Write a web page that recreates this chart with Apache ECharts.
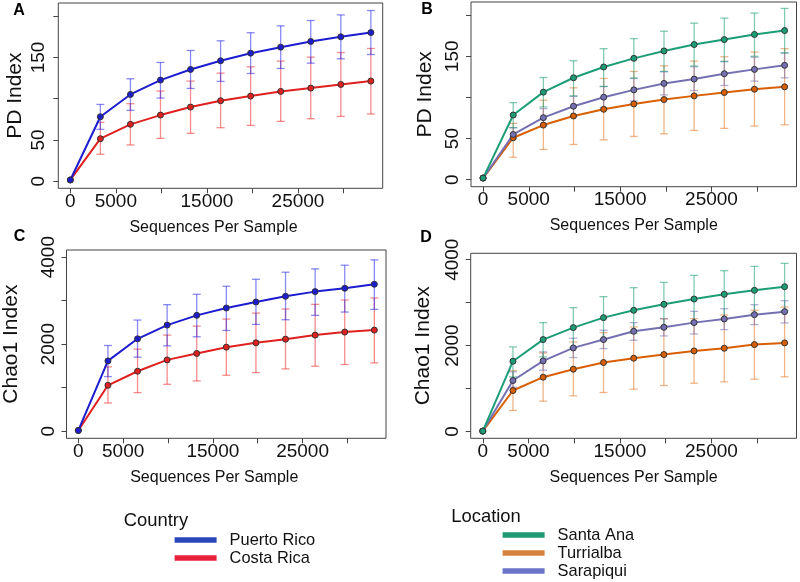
<!DOCTYPE html>
<html>
<head>
<meta charset="utf-8">
<script src="https://cdn.jsdelivr.net/npm/echarts@6/dist/echarts.min.js"></script>
<style>
  html, body { margin: 0; padding: 0; background: #fff; }
  #chart { width: 800px; height: 582px; }
</style>
</head>
<body>
<div id="chart"></div>
<script>
// sequences per sample (rarefaction depths)
const depths = [0, 3300, 6600, 9900, 13200, 16500, 19800, 23100, 26400, 29700, 33000];
const xTicks = [0, 5000, 10000, 15000, 20000, 25000, 30000];
const xLabels = [0, 5000, 15000, 25000];
const pdTicks = [0, 50, 100, 150, 200];
const pdLabels = [0, 50, 150];
const chaoTicks = [0, 1000, 2000, 3000, 4000];
const chaoLabels = [0, 2000, 4000];

// PD index by country
const pdPR = [1.6, 78.2, 105.2, 122.6, 135.5, 146, 155.2, 162.5, 169.4, 175, 180.2];
const pdPRlo = [1.6, 62.9, 85.9, 100.8, 112.5, 121, 130.6, 136.7, 143.1, 148.4, 153.6];
const pdPRhi = [1.6, 93.1, 124.2, 144, 158.5, 170.2, 180, 188.3, 194.8, 201.6, 206.9];
const pdCR = [1.6, 51.6, 69, 80.2, 89.9, 97.6, 103.2, 108.9, 112.9, 117.3, 121.4];
const pdCRlo = [1.6, 32.7, 44, 52, 58.1, 64.9, 67.7, 72.6, 75.8, 78.6, 81.5];
const pdCRhi = [1.6, 71.4, 94, 109.3, 121.4, 131, 138.7, 145.6, 150.4, 156, 160.9];

// PD index by location
const pdSA = [2, 78.6, 106.4, 123.9, 137, 147.5, 156.5, 164.3, 170.3, 176.5, 181.3];
const pdSAlo = [2, 63.2, 88.4, 101.8, 113.3, 123.5, 131.6, 138.2, 143.5, 150, 154.1];
const pdSAhi = [2, 93.7, 124.2, 144.6, 159.3, 171.5, 180.5, 190.3, 196.4, 202.5, 208.2];
const pdSP = [2, 55, 75.4, 89.3, 100.3, 109.2, 117, 122.3, 128.8, 134.1, 139];
const pdSPlo = [2, 49.7, 65.2, 77.4, 87.6, 95.8, 103.1, 108.4, 114.5, 119.8, 123.8];
const pdSPhi = [2, 63.2, 86.4, 101.4, 113.3, 123.1, 131.2, 137.3, 143.9, 148.8, 154.1];
const pdTU = [2, 51, 66.4, 77.4, 85.6, 92.1, 97.4, 101.9, 106, 110, 112.9];
const pdTUlo = [2, 27.3, 36.7, 42.8, 48.5, 52.6, 55.8, 59.9, 62.4, 65.2, 66.8];
const pdTUhi = [2, 68.5, 96.6, 111.7, 123.1, 131.6, 138.5, 144.2, 149.5, 155.2, 159.3];

// Chao1 index by country
const chPR = [15, 1615, 2123, 2438, 2662, 2831, 2969, 3100, 3208, 3285, 3377];
const chPRlo = [15, 1254, 1700, 1962, 2169, 2315, 2454, 2562, 2662, 2738, 2800];
const chPRhi = [15, 1969, 2554, 2908, 3146, 3331, 3492, 3654, 3731, 3815, 3938];
const chCR = [15, 1054, 1377, 1638, 1785, 1931, 2031, 2115, 2208, 2277, 2323];
const chCRlo = [15, 646, 885, 1077, 1154, 1285, 1346, 1431, 1492, 1531, 1569];
const chCRhi = [15, 1477, 1885, 2208, 2415, 2577, 2715, 2808, 2915, 3015, 3062];

// Chao1 index by location
const chSA = [8, 1636, 2140, 2419, 2651, 2822, 2961, 3085, 3194, 3287, 3372];
const chSAlo = [8, 1271, 1736, 1953, 2147, 2287, 2442, 2543, 2620, 2736, 2814];
const chSAhi = [8, 1969, 2535, 2884, 3140, 3349, 3473, 3636, 3744, 3845, 3915];
const chSP = [8, 1186, 1643, 1946, 2140, 2333, 2426, 2535, 2620, 2721, 2791];
const chSPlo = [8, 1031, 1426, 1721, 1930, 2124, 2225, 2271, 2372, 2488, 2527];
const chSPhi = [8, 1388, 1853, 2171, 2357, 2535, 2628, 2798, 2860, 2953, 3046];
const chTU = [8, 953, 1264, 1450, 1605, 1705, 1791, 1876, 1938, 2023, 2062];
const chTUlo = [8, 488, 705, 829, 907, 984, 1069, 1124, 1155, 1217, 1271];
const chTUhi = [8, 1419, 1829, 2085, 2302, 2434, 2620, 2628, 2713, 2822, 2899];

const FONT = "Liberation Sans";
const col = {
  pr: { line: "#1c1cd0", bar: "rgba(40,40,235,0.55)", key: "#2a46b8" },
  cr: { line: "#e0201e", bar: "rgba(238,45,45,0.55)", key: "#e8203c" },
  sa: { line: "#1b9e77", bar: "rgba(27,158,119,0.55)", key: "#1b9a73" },
  tu: { line: "#d95f02", bar: "rgba(225,110,20,0.5)", key: "#d4823c" },
  sp: { line: "#7570b3", bar: "rgba(117,112,179,0.55)", key: "#6b74c6" },
};

function errBar(params, api) {
  const x = api.value(0), lo = api.value(1), hi = api.value(2);
  if (hi - lo <= 0) return null;
  const a = api.coord([x, hi]), b = api.coord([x, lo]);
  const w = 4;
  const style = { stroke: api.visual("color"), lineWidth: 1.3 };
  return {
    type: "group",
    children: [
      { type: "line", shape: { x1: a[0], y1: a[1], x2: b[0], y2: b[1] }, style },
      { type: "line", shape: { x1: a[0] - w, y1: a[1], x2: a[0] + w, y2: a[1] }, style },
      { type: "line", shape: { x1: b[0] - w, y1: b[1], x2: b[0] + w, y2: b[1] }, style },
    ],
  };
}

function group(idx, name, c, mean, lo, hi) {
  return [
    {
      type: "custom",
      xAxisIndex: idx,
      yAxisIndex: idx,
      renderItem: errBar,
      itemStyle: { color: c.bar },
      encode: { x: 0, y: [1, 2] },
      data: depths.map((d, i) => [d, lo[i], hi[i]]),
      z: 1,
      silent: true,
    },
    {
      type: "line",
      name: name,
      xAxisIndex: idx,
      yAxisIndex: idx,
      data: depths.map((d, i) => [d, mean[i]]),
      symbol: "circle",
      symbolSize: 6,
      itemStyle: { color: c.line, borderColor: "#333", borderWidth: 1 },
      lineStyle: { color: c.line, width: 2 },
      z: 3,
      silent: true,
    },
  ];
}

const grids = [
  { left: 58.3, top: 3, width: 324.4, height: 185.3 },
  { left: 471, top: 2, width: 325.5, height: 184.7 },
  { left: 64, top: 250, width: 322, height: 188.3 },
  { left: 470.7, top: 253.3, width: 325.8, height: 185 },
].map((g) => Object.assign({ show: true, borderColor: "#444", borderWidth: 1, backgroundColor: "transparent" }, g));

function xAxis(idx, shift) {
  return {
    type: "value",
    gridIndex: idx,
    min: -1320,
    max: 34300,
    name: "Sequences Per Sample",
    nameLocation: "middle",
    nameGap: 31,
    nameTextStyle: { fontFamily: FONT, fontSize: 16, color: "#111", padding: [0, shift * 2, 0, 0] },
    axisLine: { show: false, onZero: false },
    splitLine: { show: false },
    axisTick: { show: true, inside: false, length: 5, lineStyle: { color: "#444" }, customValues: xTicks },
    axisLabel: { fontFamily: FONT, fontSize: 19, color: "#111", margin: 4, customValues: xLabels, formatter: (v) => String(v) },
  };
}

function yAxis(idx, name, min, max, ticks, labels, gap, margin) {
  return {
    type: "value",
    gridIndex: idx,
    min: min,
    max: max,
    name: name,
    nameLocation: "middle",
    nameGap: gap,
    nameTextStyle: { fontFamily: FONT, fontSize: 21, color: "#111" },
    axisLine: { show: false, onZero: false },
    splitLine: { show: false },
    axisTick: { show: true, inside: false, length: 5, lineStyle: { color: "#444" }, customValues: ticks },
    axisLabel: { fontFamily: FONT, fontSize: 19, color: "#111", rotate: 90, margin: margin, customValues: labels, formatter: (v) => String(v) },
  };
}

const letter = (t, x, y) => ({
  type: "text",
  x: x,
  y: y,
  style: { text: t, font: "bold 16px " + FONT, fill: "#000", align: "center", verticalAlign: "middle" },
});

const legendBase = {
  orient: "vertical",
  icon: "rect",
  itemWidth: 42,
  itemHeight: 5.5,
  padding: 0,
  height: 80,
  selectedMode: false,
  itemStyle: { borderWidth: 0 },
  textStyle: { fontFamily: FONT, fontSize: 16.4, color: "#111", padding: [0, 0, 0, 8] },
};

const chart = echarts.init(document.getElementById("chart"), null, { renderer: "canvas" });
chart.setOption({
  animation: false,
  grid: grids,
  xAxis: [xAxis(0, 7), xAxis(1, 0), xAxis(2, 12), xAxis(3, 0)],
  yAxis: [
    yAxis(0, "PD Index", -8.5, 216, pdTicks, pdLabels, 32.5, 10.5),
    yAxis(1, "PD Index", -8.5, 216, pdTicks, pdLabels, 35.5, 9),
    yAxis(2, "Chao1 Index", -165, 4165, chaoTicks, chaoLabels, 44.5, 8.5),
    yAxis(3, "Chao1 Index", -160, 4150, chaoTicks, chaoLabels, 36.5, 8),
  ],
  legend: [
    Object.assign({}, legendBase, {
      left: 174.6,
      top: 532,
      itemGap: 2,
      data: [
        { name: "Puerto Rico", itemStyle: { color: col.pr.key } },
        { name: "Costa Rica", itemStyle: { color: col.cr.key } },
      ],
    }),
    Object.assign({}, legendBase, {
      left: 502.6,
      top: 527,
      itemGap: 2,
      data: [
        { name: "Santa Ana", itemStyle: { color: col.sa.key } },
        { name: "Turrialba", itemStyle: { color: col.tu.key } },
        { name: "Sarapiqui", itemStyle: { color: col.sp.key } },
      ],
    }),
  ],
  graphic: [
    letter("A", 19, 11),
    letter("B", 427, 10),
    letter("C", 19.5, 237),
    letter("D", 426, 238),
    { type: "text", x: 123.7, y: 521, style: { text: "Country", font: "18.4px " + FONT, fill: "#111", verticalAlign: "middle" } },
    { type: "text", x: 451.3, y: 517, style: { text: "Location", font: "18.4px " + FONT, fill: "#111", verticalAlign: "middle" } },
  ],
  series: [
    ...group(0, "Costa Rica", col.cr, pdCR, pdCRlo, pdCRhi),
    ...group(0, "Puerto Rico", col.pr, pdPR, pdPRlo, pdPRhi),
    ...group(1, "Turrialba", col.tu, pdTU, pdTUlo, pdTUhi),
    ...group(1, "Sarapiqui", col.sp, pdSP, pdSPlo, pdSPhi),
    ...group(1, "Santa Ana", col.sa, pdSA, pdSAlo, pdSAhi),
    ...group(2, "Costa Rica", col.cr, chCR, chCRlo, chCRhi),
    ...group(2, "Puerto Rico", col.pr, chPR, chPRlo, chPRhi),
    ...group(3, "Turrialba", col.tu, chTU, chTUlo, chTUhi),
    ...group(3, "Sarapiqui", col.sp, chSP, chSPlo, chSPhi),
    ...group(3, "Santa Ana", col.sa, chSA, chSAlo, chSAhi),
  ],
});
</script>
</body>
</html>
